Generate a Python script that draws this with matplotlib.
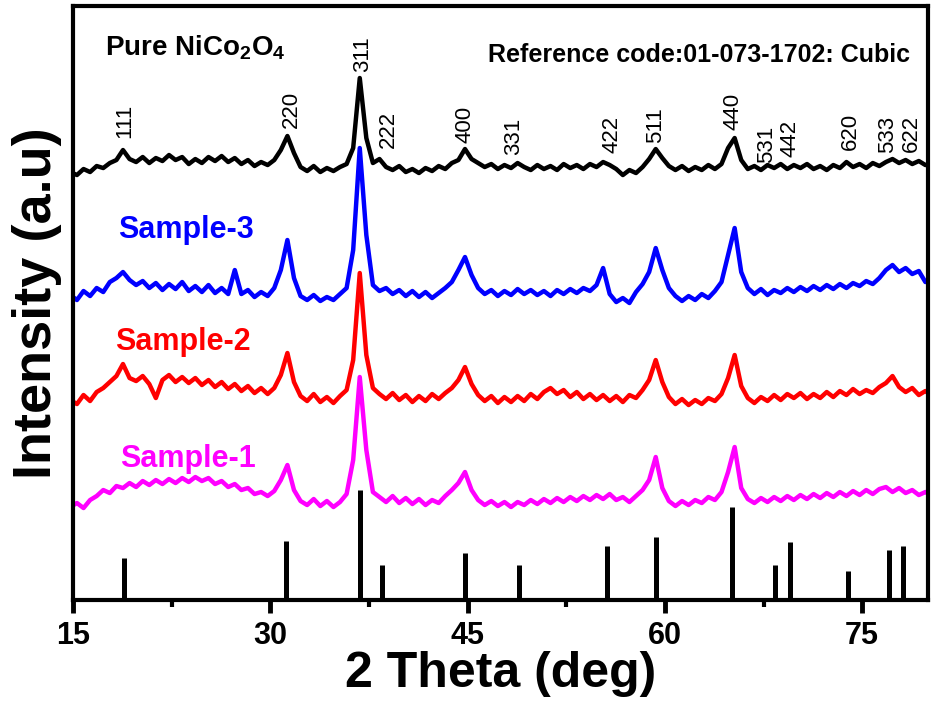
import numpy as np
import matplotlib
matplotlib.use("Agg")
import matplotlib.pyplot as plt
from matplotlib.ticker import MultipleLocator, AutoMinorLocator

plt.rcParams['font.family'] = ['Liberation Sans', 'DejaVu Sans']
plt.rcParams['mathtext.fontset'] = 'custom'
plt.rcParams['mathtext.rm'] = 'Liberation Sans:bold'
plt.rcParams['mathtext.bf'] = 'Liberation Sans:bold'

# 2 theta grid (deg), 0.5 deg steps
two_theta = np.arange(14.8, 80.31, 0.5)

# intensities (a.u., stacked offsets already included)
pure = [
    428, 425, 431, 428, 434, 432, 437, 440, 450, 441,
    438, 443, 437, 442, 439, 445, 440, 443, 436, 441,
    437, 443, 439, 444, 438, 442, 436, 440, 434, 438,
    435, 440, 450, 464, 447, 433, 429, 434, 428, 432,
    429, 433, 436, 452, 522, 462, 437, 441, 433, 430,
    434, 428, 431, 427, 432, 429, 434, 431, 437, 440,
    451, 441, 437, 433, 436, 431, 435, 432, 437, 433,
    430, 435, 431, 434, 430, 436, 432, 435, 431, 436,
    433, 438, 435, 431, 425, 430, 427, 433, 441, 451,
    442, 434, 430, 434, 429, 433, 430, 435, 431, 436,
    452, 462, 440, 431, 434, 430, 435, 432, 436, 431,
    435, 432, 436, 431, 434, 430, 435, 432, 438, 433,
    436, 432, 437, 434, 438, 441, 437, 440, 436, 439,
    435, 437,
]
sample3 = [
    305, 300, 309, 304, 312, 308, 318, 322, 328, 320,
    315, 319, 312, 317, 310, 316, 311, 318, 309, 314,
    308, 315, 307, 312, 306, 330, 306, 310, 303, 308,
    304, 312, 330, 360, 322, 304, 300, 305, 299, 303,
    300, 306, 312, 350, 452, 365, 315, 309, 312, 306,
    310, 304, 309, 303, 308, 302, 307, 312, 318, 330,
    343, 325, 312, 306, 310, 304, 309, 305, 311, 306,
    310, 305, 309, 304, 310, 306, 311, 307, 312, 309,
    315, 332, 306, 298, 302, 297, 308, 316, 328, 352,
    330, 312, 304, 299, 304, 300, 306, 302, 309, 318,
    345, 372, 328, 312, 306, 311, 305, 310, 307, 312,
    308, 313, 309, 314, 310, 315, 311, 316, 312, 317,
    314, 319, 316, 322, 330, 335, 328, 332, 326, 329,
    318, 322,
]
sample2 = [
    200, 196, 205, 199, 208, 212, 218, 224, 236, 222,
    219, 224, 216, 202, 220, 225, 218, 223, 217, 222,
    215, 220, 213, 218, 211, 216, 209, 214, 207, 212,
    206, 212, 225, 247, 218, 204, 199, 206, 198, 203,
    197, 204, 210, 240, 327, 245, 212, 206, 201, 207,
    200, 205, 198, 204, 199, 206, 201, 207, 212, 220,
    233, 216, 205, 199, 204, 197, 203, 198, 204, 199,
    206, 201, 208, 212, 206, 210, 203, 208, 201, 206,
    200, 205, 199, 204, 198, 205, 202, 210, 220, 240,
    218, 203, 196, 201, 195, 200, 196, 202, 199, 206,
    222, 245, 214, 202, 197, 203, 199, 205, 200, 206,
    202, 207, 201, 206, 202, 208, 203, 209, 205, 211,
    206, 210, 207, 213, 217, 224, 213, 208, 212, 205,
    209, 204,
]
sample1 = [
    93, 97, 92, 100, 104, 110, 107, 114, 112, 117,
    113, 119, 115, 120, 116, 121, 117, 122, 118, 123,
    119, 122, 116, 119, 113, 116, 110, 112, 106, 108,
    104, 109, 120, 135, 110, 99, 95, 101, 94, 99,
    93, 98, 106, 140, 223, 150, 108, 103, 98, 104,
    97, 102, 96, 101, 95, 100, 97, 104, 110, 117,
    128, 110, 100, 95, 99, 94, 98, 93, 98, 95,
    100, 96, 101, 97, 102, 98, 103, 99, 104, 100,
    105, 101, 106, 100, 103, 98, 104, 110, 120, 143,
    112, 99, 94, 99, 95, 100, 97, 103, 100, 108,
    128, 153, 112, 101, 97, 102, 98, 103, 99, 104,
    100, 105, 101, 106, 102, 107, 103, 108, 104, 109,
    105, 110, 106, 111, 113, 108, 112, 107, 110, 105,
    108, 104,
]

# reference pattern 01-073-1702 (cubic NiCo2O4)
ref_pos = [18.9, 31.2, 36.8, 38.5, 44.8, 48.9, 55.6, 59.3, 65.1, 68.4, 69.5, 73.9, 77.0, 78.1]
ref_int = [42, 59, 110, 35, 47, 35, 54, 63, 93, 35, 58, 29, 50, 54]
hkl = ['111', '220', '311', '222', '400', '331', '422', '511', '440',
       '531', '442', '620', '533', '622']

# where the hkl labels sit above the top pattern
hkl_x = [18.95, 31.6, 37.0, 39.0, 44.8, 48.5, 56.0, 59.3, 65.2, 67.7, 69.5, 74.1, 76.95, 78.7]
hkl_y = [462, 472, 528, 452, 457, 445, 447, 457, 470, 437, 443, 450, 447, 448]

fig = plt.figure(figsize=(9.31, 7.09), dpi=100)
ax = fig.add_axes([0.0784, 0.1537, 0.9184, 0.8378])

ax.vlines(ref_pos, 0, ref_int, color='black', lw=3.6)

ax.plot(two_theta, pure, color='black', lw=3.2)
ax.plot(two_theta, sample3, color='#0000ff', lw=3.2)
ax.plot(two_theta, sample2, color='#ff0000', lw=3.2)
ax.plot(two_theta, sample1, color='#ff00ff', lw=3.2)

for lbl, x, y in zip(hkl, hkl_x, hkl_y):
    ax.text(x, y, lbl, rotation=90, ha='center', va='bottom', fontsize=16)

ax.text(18.4, 362, 'Sample-3', color='#0000ff', fontsize=22, fontweight='bold')
ax.text(18.2, 250, 'Sample-2', color='#ff0000', fontsize=22, fontweight='bold')
ax.text(18.6, 133, 'Sample-1', color='#ff00ff', fontsize=22, fontweight='bold')

ax.text(17.4, 545, r'Pure NiCo$_2$O$_4$', fontsize=20, fontweight='bold')
ax.text(78.6, 538, 'Reference code:01-073-1702: Cubic', fontsize=18,
        fontweight='bold', ha='right')

ax.set_xlim(15, 80)
ax.set_ylim(0, 594)
ax.xaxis.set_major_locator(MultipleLocator(15))
ax.xaxis.set_minor_locator(AutoMinorLocator(2))
ax.set_yticks([])
ax.tick_params(axis='x', which='major', direction='out', length=9, width=3.5,
               labelsize=22, pad=6)
ax.tick_params(axis='x', which='minor', direction='out', length=5, width=3)
for lab in ax.get_xticklabels():
    lab.set_fontweight('bold')
for sp in ax.spines.values():
    sp.set_linewidth(3)

ax.set_xlabel('2 Theta (deg)', fontsize=36, fontweight='bold', labelpad=0)
ax.set_ylabel('Intensity (a.u)', fontsize=39, fontweight='bold', labelpad=8)

fig.savefig('out.png', dpi=100)
